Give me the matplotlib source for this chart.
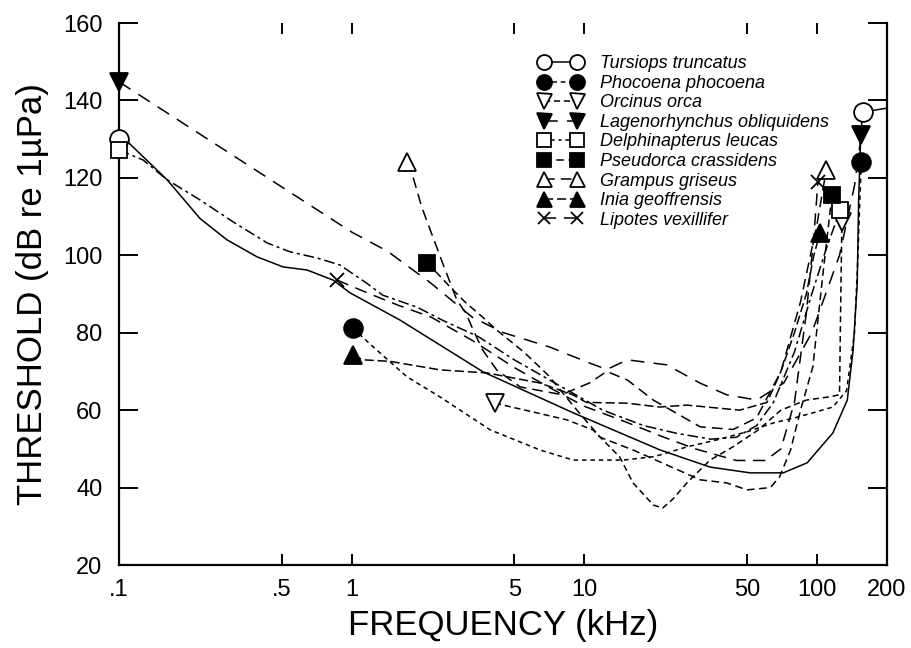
import matplotlib
matplotlib.use("Agg")
import matplotlib.pyplot as plt
from matplotlib.lines import Line2D
from matplotlib.ticker import FixedLocator, FixedFormatter, NullLocator

plt.rcParams["font.family"] = ["Liberation Sans", "DejaVu Sans"]

# Данные (кГц, дБ)
tur_f = [0.1, 0.109, 0.161, 0.223, 0.291, 0.392, 0.507, 0.643, 0.832, 0.984, 1.61, 3.67,
         8.96, 21.2, 34.7, 51.6, 71.6, 90.8, 117, 135, 143, 149, 151, 154, 157, 200]
tur_db = [130, 129.3, 119.5, 109.5, 104, 99.6, 97, 96.2, 93.6, 90.3, 83.3, 69.9,
          59.3, 49.7, 45.3, 43.8, 43.8, 46.4, 54.1, 62.6, 75.5, 92.8, 114, 130, 137, 138]

pho_f = [1.01, 1.24, 1.73, 2.4, 3.94, 6.46, 8.96, 14.7, 20, 27.6, 37, 50, 65, 80, 96,
         117, 134, 145, 150, 153, 155]
pho_db = [81.2, 76.3, 68.6, 63.4, 54.9, 49.7, 47.1, 47.1, 48, 50.5, 52.3, 54.4, 56.7, 58,
          59.3, 60.8, 65, 80, 100, 115, 124]

orc_f = [4.14, 4.48, 6.26, 8.4, 10.9, 14.2, 16.2, 19.8, 21.7, 24, 27.6, 34.7, 43.5, 56,
         70, 90, 115, 125, 126, 127, 128]
orc_db = [61.9, 61.3, 59.3, 57.5, 54.9, 47.9, 41.2, 35.5, 34.7, 37, 41.2, 47.1, 50.5, 54.9,
          60, 62.6, 63.5, 64, 80, 95, 108.6]

lag_f = [0.1, 1.0, 1.43, 1.67, 2.17, 3.3, 4.5, 7.1, 10.5, 12.5, 15.3, 22.6, 31.4, 40.8,
         55, 72, 95, 125, 145, 155]
lag_db = [144.8, 106, 101, 98, 93, 84, 80, 76.3, 72.2, 70.5, 73, 71.7, 67, 64,
          62.6, 67, 80, 100, 118, 131]

del_f = [0.1, 0.127, 0.161, 0.223, 0.31, 0.433, 0.543, 0.71, 0.89, 1.16, 1.36, 1.91, 2.5,
         3.5, 5, 8, 12, 18, 25, 35, 45, 55, 65, 80, 95, 110, 126]
del_db = [127.2, 124.6, 119.5, 114.3, 108.6, 103.2, 100.9, 99.3, 97.5, 92.8, 89.7, 86.6, 83,
          79, 73, 66, 60, 56, 54, 52.5, 53, 56, 62, 75, 90, 102, 111.7]

pse_f = [2.1, 2.33, 2.65, 3.1, 3.66, 4.2, 5.5, 7, 9, 11.7, 16.2, 23.7, 31.5, 41, 50, 63,
         69, 77, 85, 96, 106, 116]
pse_db = [98, 95.4, 91.8, 87.7, 84, 80.7, 75, 69, 61, 53, 49.7, 45.3, 42, 41.2, 39.4, 40,
          42.7, 49.7, 60, 71.2, 95, 115.6]

gra_f = [1.73, 1.82, 2.0, 2.2, 2.46, 2.83, 3.1, 3.33, 3.66, 4.2, 5.3, 8, 10.5, 12.5, 15.3,
         19.8, 31.5, 43.6, 55, 70, 85, 100, 109.6]
gra_db = [124.1, 121, 112.5, 105.8, 98, 88.5, 85, 80.7, 75.5, 70.4, 66, 64, 67, 70, 67.8,
          62.6, 55.7, 55, 58, 70, 88, 108, 122]

ini_f = [1.01, 1.12, 1.46, 2.4, 3.83, 6.45, 8.9, 10.2, 15.3, 21, 27.6, 46.5, 61, 70, 80,
         90, 97, 103]
ini_db = [74.2, 73, 72.6, 70.4, 69.6, 67, 64, 62, 61.8, 60.8, 61.3, 60, 62, 70, 80,
          90, 100, 105.8]

lip_f = [0.865, 1.2, 1.6, 2.2, 3.3, 5, 7, 10, 15, 22, 30, 45, 60, 70, 80, 90, 97, 101]
lip_db = [93.6, 90, 87, 84, 78, 71, 66, 61, 57, 53, 50, 47, 47, 50, 62, 85, 105, 119]

x_ticks = [0.1, 0.5, 1, 5, 10, 50, 100, 200]
x_labels = [".1", ".5", "1", "5", "10", "50", "100", "200"]
y_ticks = [20, 40, 60, 80, 100, 120, 140, 160]

# вид, линия, маркер, заливка, индексы маркеров
series = [
    ("Tursiops truncatus", tur_f, tur_db, "-", "o", "white", [0, len(tur_f) - 2]),
    ("Phocoena phocoena", pho_f, pho_db, (0, (3, 2.5)), "o", "black", [0, -1]),
    ("Orcinus orca", orc_f, orc_db, (0, (4, 2.5)), "v", "white", [0, -1]),
    ("Lagenorhynchus obliquidens", lag_f, lag_db, (0, (9, 6)), "v", "black", [0, -1]),
    ("Delphinapterus leucas", del_f, del_db, (0, (7, 2.5, 2, 2.5)), "s", "white", [0, -1]),
    ("Pseudorca crassidens", pse_f, pse_db, (0, (5, 3)), "s", "black", [0, -1]),
    ("Grampus griseus", gra_f, gra_db, (0, (7, 4)), "^", "white", [0, -1]),
    ("Inia geoffrensis", ini_f, ini_db, (0, (6, 2.5)), "^", "black", [0, -1]),
    ("Lipotes vexillifer", lip_f, lip_db, (0, (8, 5)), "x", "black", [0, -1]),
]

fig = plt.figure(figsize=(9.11, 6.48), dpi=100)
ax = fig.add_axes([119 / 911, 1 - 565 / 648, 768 / 911, 542 / 648])

handles = []
for name, f, db, ls, mk, fc, idx in series:
    ms = 10 if mk == "x" else (12 if mk == "s" else 13.5)
    ax.plot(f, db, color="black", lw=1.1, ls=ls, clip_on=False, zorder=2)
    ax.plot([f[i] for i in idx], [db[i] for i in idx], ls="none", marker=mk, ms=ms,
            mfc=fc, mec="black", mew=1.3, clip_on=False, zorder=3)
    handles.append(Line2D([], [], color="black", lw=1.1, ls=ls, marker=mk, ms=ms,
                          mfc=fc, mec="black", mew=1.3, label=name))

ax.set_xscale("log")
ax.set_xlim(0.1, 200)
ax.set_ylim(20, 160)
ax.xaxis.set_major_locator(FixedLocator(x_ticks))
ax.xaxis.set_major_formatter(FixedFormatter(x_labels))
ax.xaxis.set_minor_locator(NullLocator())
ax.set_yticks(y_ticks)

ax.spines["top"].set_visible(False)
for s in ["left", "right", "bottom"]:
    ax.spines[s].set_linewidth(1.6)
ax.tick_params(axis="x", direction="in", top=True, length=8, width=1.4,
               labelsize=17, pad=10)
ax.tick_params(axis="y", direction="in", right=True, length=14, width=1.4,
               labelsize=17, pad=12)

ax.set_xlabel("FREQUENCY (kHz)", fontsize=25, labelpad=6)
ax.set_ylabel("THRESHOLD (dB re 1µPa)", fontsize=25, labelpad=10)

leg = ax.legend(handles=handles, loc="upper left", bbox_to_anchor=(0.535, 0.957),
                frameon=False, fontsize=13, numpoints=2, handlelength=2.4,
                handletextpad=1.0, labelspacing=0.14, borderpad=0, markerscale=0.8)
for t in leg.get_texts():
    t.set_fontstyle("italic")

plt.savefig("out.png", dpi=100)
